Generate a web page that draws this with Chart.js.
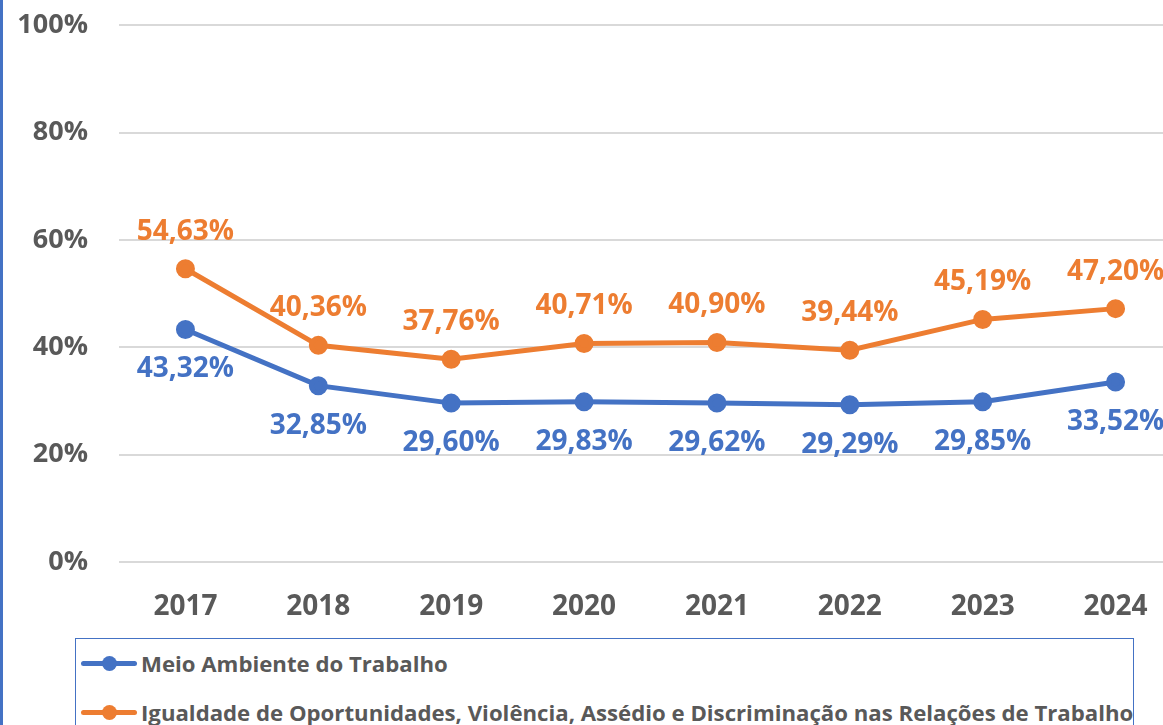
<!DOCTYPE html>
<html lang="pt">
  <head>
    <meta charset="UTF-8" />
    <title>Meio Ambiente x Igualdade</title>
    <script src="https://cdn.jsdelivr.net/npm/chart.js"></script>
    <style>
      body {
        margin: 0;
        overflow: hidden;
        background: #fff;
        font-family: "Open Sans", sans-serif;
      }
      .wrap {
        position: relative;
        width: 1163px;
        height: 725px;
        overflow: hidden;
      }
      .edge {
        position: absolute;
        left: 0;
        top: 0;
        width: 3px;
        height: 725px;
        background: #4472c4;
      }
      #chart {
        position: absolute;
        left: 0;
        top: -22px;
      }
      .legend {
        position: absolute;
        left: 75px;
        top: 638px;
        width: 1059px;
        height: 120px;
        border: 1.5px solid #4472c4;
        box-sizing: border-box;
      }
      .item {
        position: absolute;
        left: 5px;
        height: 30px;
        display: flex;
        align-items: center;
        color: #595959;
        font-weight: 700;
        font-size: 22.2px;
        white-space: nowrap;
      }
      .swatch {
        position: relative;
        width: 56px;
        height: 5px;
        border-radius: 3px;
        margin-right: 4px;
      }
      .swatch span {
        position: absolute;
        left: 21px;
        top: -5px;
        width: 15px;
        height: 15px;
        border-radius: 50%;
      }
    </style>
  </head>
  <body>
    <div class="wrap">
      <div class="edge"></div>
      <canvas id="chart" width="1194" height="660"></canvas>
      <div class="legend" id="legend"></div>
    </div>

    <script>
      const years = ["2017", "2018", "2019", "2020", "2021", "2022", "2023", "2024"];
      const meioAmbiente = [43.32, 32.85, 29.6, 29.83, 29.62, 29.29, 29.85, 33.52];
      const igualdade = [54.63, 40.36, 37.76, 40.71, 40.9, 39.44, 45.19, 47.2];
      const seriesNames = [
        "Meio Ambiente do Trabalho",
        "Igualdade de Oportunidades, Violência, Assédio e Discriminação nas Relações de Trabalho",
      ];

      const BLUE = "#4472C4";
      const ORANGE = "#ED7D31";
      const GREY = "#595959";

      function fmt(v) {
        return v.toFixed(2).replace(".", ",") + "%";
      }

      // labels: orange above the points, blue below
      const pointLabels = {
        id: "pointLabels",
        afterDatasetsDraw(chart) {
          const ctx = chart.ctx;
          ctx.save();
          ctx.font = "700 28px 'Open Sans'";
          ctx.textAlign = "center";
          ctx.textBaseline = "middle";
          chart.data.datasets.forEach((ds, i) => {
            const meta = chart.getDatasetMeta(i);
            ctx.fillStyle = ds.borderColor;
            meta.data.forEach((pt, j) => {
              const dy = i === 0 ? 40 : -37;
              ctx.fillText(fmt(ds.data[j]), pt.x, pt.y + dy);
            });
          });
          ctx.restore();
        },
      };

      const chart = new Chart(document.getElementById("chart"), {
        type: "line",
        data: {
          labels: years,
          datasets: [
            {
              label: seriesNames[0],
              data: meioAmbiente,
              borderColor: BLUE,
              backgroundColor: BLUE,
              borderWidth: 5,
              pointRadius: 7,
              pointHoverRadius: 7,
              tension: 0,
            },
            {
              label: seriesNames[1],
              data: igualdade,
              borderColor: ORANGE,
              backgroundColor: ORANGE,
              borderWidth: 5,
              pointRadius: 7,
              pointHoverRadius: 7,
              tension: 0,
            },
          ],
        },
        options: {
          responsive: false,
          animation: false,
          layout: { padding: { top: 2, right: 0, bottom: 0, left: 0 } },
          plugins: {
            legend: { display: false },
            tooltip: { enabled: false },
          },
          scales: {
            x: {
              offset: true,
              grid: { display: false },
              border: { display: false },
              ticks: {
                color: GREY,
                padding: 20,
                font: { family: "Open Sans", size: 28, weight: "700" },
              },
              afterFit(scale) {
                scale.height = 76;
              },
            },
            y: {
              min: 0,
              max: 100,
              grid: { color: "#D9D9D9", lineWidth: 2, drawTicks: false },
              border: { display: false },
              ticks: {
                stepSize: 20,
                color: GREY,
                padding: 31,
                font: { family: "Open Sans", size: 27, weight: "700" },
                callback: (v) => v + "%",
              },
              afterFit(scale) {
                scale.width = 119;
              },
            },
          },
        },
        plugins: [pointLabels],
      });

      // legend box below the chart
      const legend = document.getElementById("legend");
      chart.data.datasets.forEach((ds, i) => {
        const item = document.createElement("div");
        item.className = "item";
        item.style.top = (i === 0 ? 9 : 58) + "px";
        item.innerHTML =
          '<div class="swatch" style="background:' + ds.borderColor + '"><span style="background:' +
          ds.borderColor + '"></span></div>' + ds.label;
        legend.appendChild(item);
      });
    </script>
  </body>
</html>
